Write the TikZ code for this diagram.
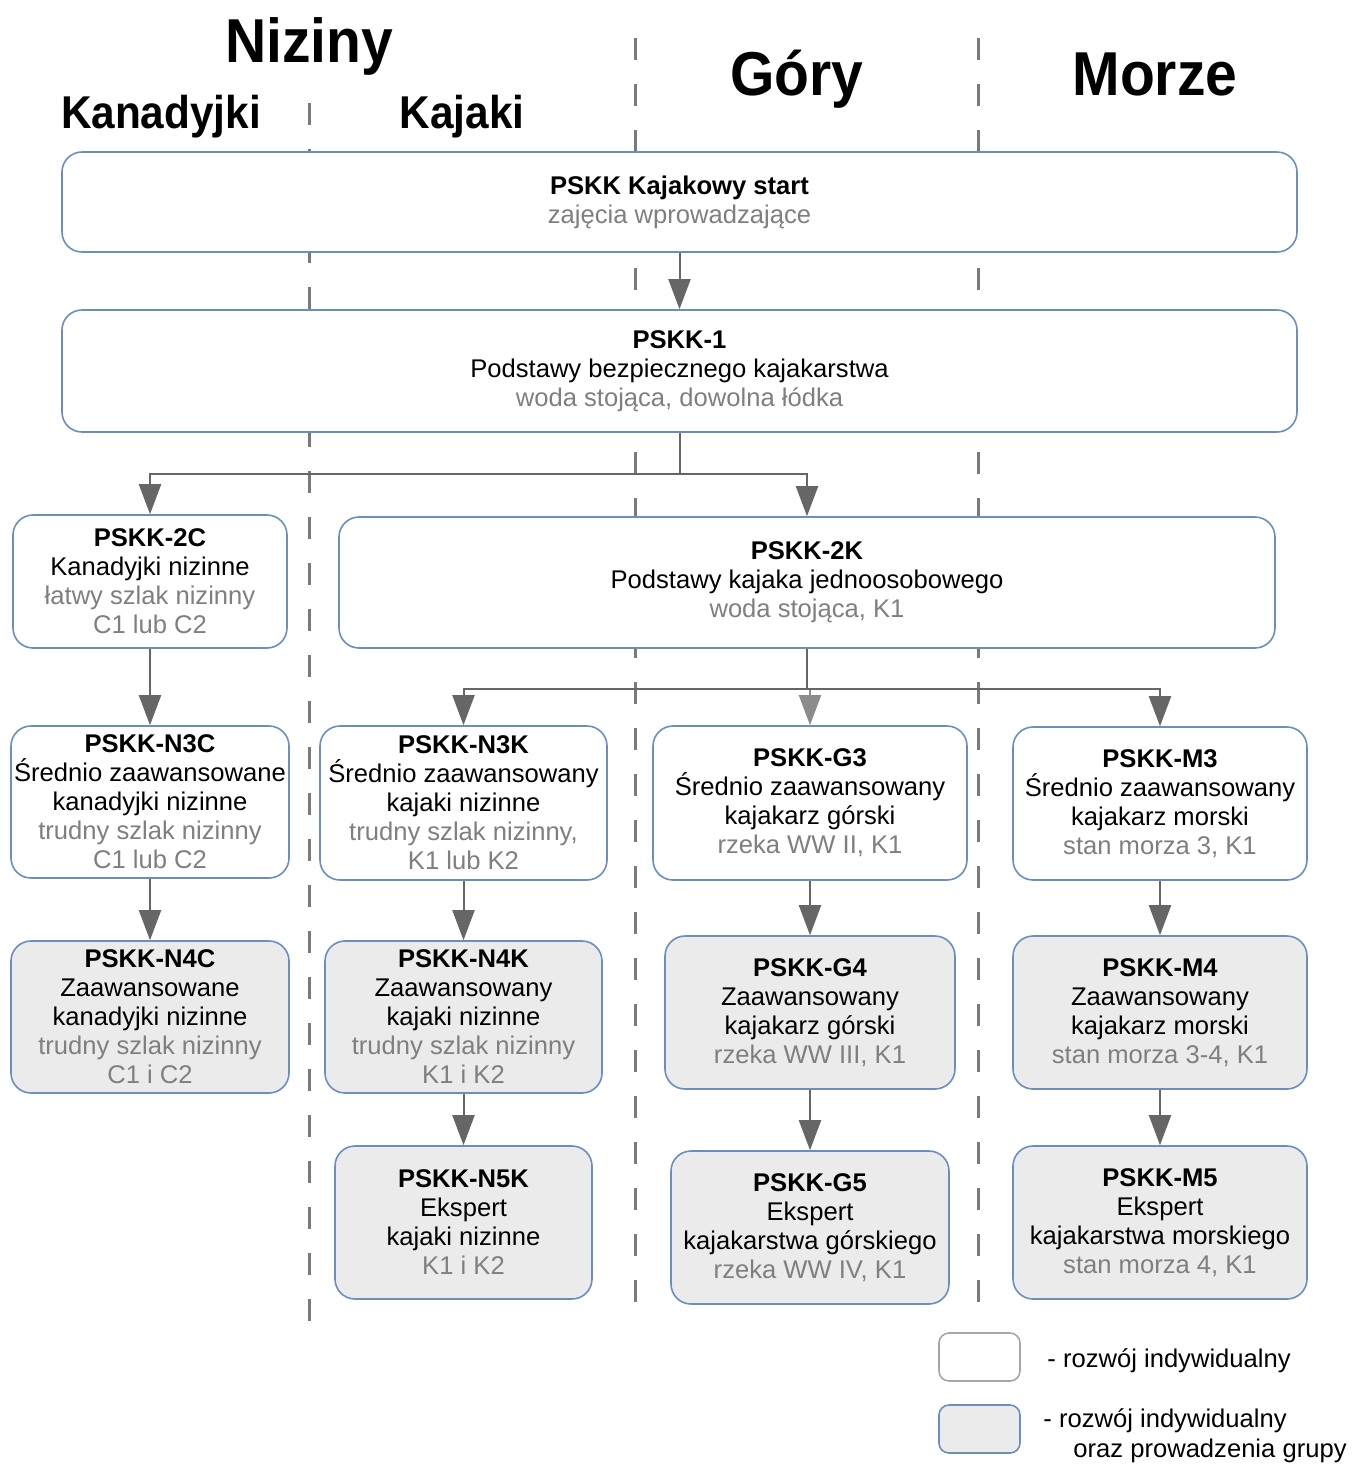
\documentclass[tikz,border=0pt]{standalone}
\usepackage{fontspec}
\setmainfont{Liberation Sans}
\newfontfamily\headfont[FakeStretch=0.92]{Liberation Sans}
\usetikzlibrary{positioning,arrows.meta}
\definecolor{boxblue}{HTML}{6C8EBF}
\definecolor{boxgray}{HTML}{EBEBEB}
\definecolor{infogray}{HTML}{7F7F7F}
\definecolor{arrowgray}{HTML}{666666}
\definecolor{sepgray}{HTML}{7A7A7A}
\newcommand{\kursinfo}[1]{\textcolor{infogray}{#1}}
\tikzset{
  kurs/.style={
    rectangle,
    rounded corners=10pt,
    draw=boxblue, thick,
    fill=white,
    inner sep=0pt,
    align=center,
    font=\fontsize{12.8}{14.5}\selectfont},
  grupa/.style={kurs, fill=boxgray},
  line/.style={draw=arrowgray, line width=1pt, -{Triangle[length=15pt,width=11pt]}},
  granica/.style={draw=sepgray, line width=1.5pt, dash pattern=on 11pt off 12pt},
  naglowek/.style={anchor=base, inner sep=0pt, font=\headfont\bfseries\fontsize{31}{34}\selectfont},
  podnaglowek/.style={anchor=base, inner sep=0pt, font=\headfont\bfseries\fontsize{23}{26}\selectfont},
  legenda/.style={anchor=west, inner sep=0pt, align=left, font=\fontsize{12.8}{15}\selectfont},
}

\begin{document}
\begin{tikzpicture}[x=0.5pt,y=-0.5pt]
  \useasboundingbox (0,0) rectangle (1352,1464);

  % granice miedzy dzialami
  \draw[granica] (309,103) -- (309,1338);
  \draw[granica] (635,38) -- (635,1318);
  \draw[granica] (978,38) -- (978,1318);

  % naglowki
  \node[naglowek] (Niziny) at (309,62) {Niziny};
  \node[podnaglowek] (Kanadyjki) at (161,128) {Kanadyjki};
  \node[podnaglowek] (Kajaki) at (462,128) {Kajaki};
  \node[naglowek] (Gory) at (797,95) {Góry};
  \node[naglowek] (Morze) at (1155,95) {Morze};

  % wspolny poczatek
  \node[kurs, minimum width=617.5pt, minimum height=50pt] (Start) at (679.5,202)
    {\textbf{PSKK Kajakowy start}\\\kursinfo{zajęcia wprowadzające}};
  \node[kurs, minimum width=617.5pt, minimum height=61pt] (Pskk1) at (679.5,371)
    {\textbf{PSKK-1}\\Podstawy bezpiecznego kajakarstwa\\\kursinfo{woda stojąca, dowolna łódka}};

  \node[kurs, minimum width=137pt, minimum height=66.5pt] (Pskk2C) at (150,581.5)
    {\textbf{PSKK-2C}\\Kanadyjki nizinne\\\kursinfo{łatwy szlak nizinny}\\\kursinfo{C1 lub C2}};
  \node[kurs, minimum width=468pt, minimum height=65.5pt] (Pskk2K) at (807,582.5)
    {\textbf{PSKK-2K}\\Podstawy kajaka jednoosobowego\\\kursinfo{woda stojąca, K1}};

  % poziom 3
  \node[kurs, minimum width=139pt, minimum height=76pt] (PskkN3C) at (150,802)
    {\textbf{PSKK-N3C}\\Średnio zaawansowane\\kanadyjki nizinne\\\kursinfo{trudny szlak nizinny}\\\kursinfo{C1 lub C2}};
  \node[kurs, minimum width=143.5pt, minimum height=77pt] (PskkN3K) at (463.5,803)
    {\textbf{PSKK-N3K}\\Średnio zaawansowany\\kajaki nizinne\\\kursinfo{trudny szlak nizinny,}\\\kursinfo{K1 lub K2}};
  \node[kurs, minimum width=157pt, minimum height=77pt] (PskkG3) at (810,803)
    {\textbf{PSKK-G3}\\Średnio zaawansowany\\kajakarz górski\\\kursinfo{rzeka WW II, K1}};
  \node[kurs, minimum width=147pt, minimum height=76.5pt] (PskkM3) at (1160,803.5)
    {\textbf{PSKK-M3}\\Średnio zaawansowany\\kajakarz morski\\\kursinfo{stan morza 3, K1}};

  % poziom 4
  \node[grupa, minimum width=139pt, minimum height=76pt] (PskkN4C) at (150,1017)
    {\textbf{PSKK-N4C}\\Zaawansowane\\kanadyjki nizinne\\\kursinfo{trudny szlak nizinny}\\\kursinfo{C1 i C2}};
  \node[grupa, minimum width=138.5pt, minimum height=76pt] (PskkN4K) at (463.5,1017)
    {\textbf{PSKK-N4K}\\Zaawansowany\\kajaki nizinne\\\kursinfo{trudny szlak nizinny}\\\kursinfo{K1 i K2}};
  \node[grupa, minimum width=145pt, minimum height=76.5pt] (PskkG4) at (810,1012.5)
    {\textbf{PSKK-G4}\\Zaawansowany\\kajakarz górski\\\kursinfo{rzeka WW III, K1}};
  \node[grupa, minimum width=147pt, minimum height=76.5pt] (PskkM4) at (1160,1012.5)
    {\textbf{PSKK-M4}\\Zaawansowany\\kajakarz morski\\\kursinfo{stan morza 3-4, K1}};

  % poziom 5
  \node[grupa, minimum width=128.5pt, minimum height=76.5pt] (PskkN5K) at (463.5,1222.5)
    {\textbf{PSKK-N5K}\\Ekspert\\kajaki nizinne\\\kursinfo{K1 i K2}};
  \node[grupa, minimum width=139pt, minimum height=76.5pt] (PskkG5) at (810,1227.5)
    {\textbf{PSKK-G5}\\Ekspert\\kajakarstwa górskiego\\\kursinfo{rzeka WW IV, K1}};
  \node[grupa, minimum width=147pt, minimum height=76.5pt] (PskkM5) at (1160,1222.5)
    {\textbf{PSKK-M5}\\Ekspert\\kajakarstwa morskiego\\\kursinfo{stan morza 4, K1}};

  % strzalki
  \draw[line] (Start) -- (Pskk1);
  \draw[line] (Pskk1.south) -- ++(0,41) -| (Pskk2C.north);
  \draw[line] (Pskk1.south) -- ++(0,41) -| (Pskk2K.north);
  \draw[line] (Pskk2C) -- (PskkN3C);
  \draw[line] (Pskk2K.south) -- ++(0,40) -| (PskkN3K.north);
  \draw[line, draw=arrowgray!75] (Pskk2K.south) -- ++(0,40) -| (PskkG3.north);
  \draw[line] (Pskk2K.south) -- ++(0,40) -| (PskkM3.north);
  \draw[line] (PskkN3C) -- (PskkN4C);
  \draw[line] (PskkN3K) -- (PskkN4K);
  \draw[line] (PskkN4K) -- (PskkN5K);
  \draw[line] (PskkG3) -- (PskkG4);
  \draw[line] (PskkG4) -- (PskkG5);
  \draw[line] (PskkM3) -- (PskkM4);
  \draw[line] (PskkM4) -- (PskkM5);

  % legenda
  \node[kurs, draw=gray!70, rounded corners=5pt, minimum width=40.5pt, minimum height=24pt] (LegInd) at (979.5,1357) {};
  \node[grupa, rounded corners=5pt, minimum width=40.5pt, minimum height=24pt] (LegGrp) at (979.5,1429) {};
  \node[legenda] (LegIndTxt) at (1047,1361) {- rozwój indywidualny};
  \node[legenda] (LegGrpTxt) at (1043,1436) {- rozwój indywidualny\\\hspace*{15pt}oraz prowadzenia grupy};
\end{tikzpicture}
\end{document}
